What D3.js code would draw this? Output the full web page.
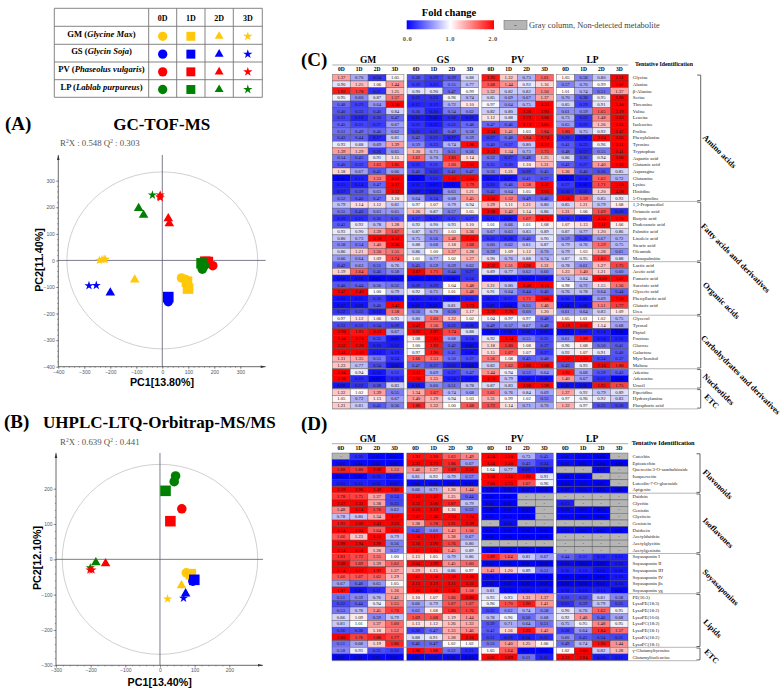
<!DOCTYPE html>
<html>
<head>
<meta charset="utf-8">
<script src="https://cdn.jsdelivr.net/npm/d3@7"></script>
<style>
html, body { margin: 0; padding: 0; background: #fff; }
svg { display: block; }
.serif { font-family: "Liberation Serif", serif; }
.sans { font-family: "Liberation Sans", sans-serif; }
</style>
</head>
<body>
<div id="chart"></div>
<script>
const species = ["GM", "GS", "PV", "LP"];
const days = ["0D", "1D", "2D", "3D"];
const speciesLatin = ["Glycine Max", "Glycin Soja", "Phaseolus vulgaris", "Lablab purpureus"];

// PCA scores: [species, day, pc1, pc2]
const pcaA = [
  ["GM",3,-242,0],["GM",3,-232,3],["GM",3,-224,4],["GM",3,-219,4],
  ["GM",2,-106,-73],["GM",1,95,-80],["GM",1,99,-106],["GM",0,74,-66],["GM",0,90,-72],
  ["GS",3,-282,-95],["GS",3,-254,-94],["GS",2,-200,-122],["GS",1,23,-138],["GS",0,23,-146],["GS",0,23,-155],
  ["PV",1,165,-5],["PV",1,175,-6],["PV",0,194,-20],
  ["LP",1,151,-11],["LP",0,154,-18],["LP",0,154,-33],["LP",0,162,-20],
  ["PV",2,23,158],["PV",2,27,139],["LP",2,-91,196],["LP",2,-72,171],
  ["LP",3,-38,246],["PV",3,-8,246],["PV",3,-8,236],["PV",3,-10,240]
];
const pcaB = [
  ["LP",0,45,236],["LP",0,41,220],["LP",1,16,194],["PV",0,63,143],["PV",1,30,108],
  ["LP",3,-201,-24],["LP",2,-185,-9],["PV",2,-157,-12],["PV",3,-196,-30],["PV",3,-202,-30],
  ["GM",1,89,-42],["GM",0,76,-38],["GS",1,99,-58],["GS",0,95,-62],
  ["GM",2,62,-74],["GM",3,22,-112],["GS",2,74,-97],["GS",3,68,-110]
];

const cRows = ["Glycine","Alanine","β-Alanine","Serine","Threonine","Valine","Leucine","Isoleucine","Proline","Phenylalanine","Tyrosine","Tryptophan","Aspartic acid","Glutamic acid","Asparagine","Glutamine","Lysine","Histidine","5-Oxoproline",
  "1,3-Propanediol","Octanoic acid","Butyric acid","Dodecanoic acid","Palmitic acid","Linoleic acid","Stearic acid","Oleamide","Monopalmitin",
  "Lactic acid","Acetic acid","Fumaric acid","Succinic acid","Glyceric acid","Phenyllactic acid","Glutaric acid","Urea",
  "Glycerol","Tyrosol","Phytol","Fructose","Glucose","Galactose","Myo-Inositol","Maltose",
  "Adenine","Adenosine","Uracil","Piperidine","Hydroxylamine","Phosphoric acid"];
const cGroups = [["Amino acids",19],["Fatty acids and derivatives",9],["Organic acids",8],["Carbohydrates and derivatives",8],["Nucleotides",3],["ETC",3]];

const cGM = [[1.37,.70,.24,1.05],[.90,1.25,1.06,1.44],[1.92,1.78,.21,1.25],[.95,.60,.87,1.57],[.48,.29,.64,2.56],[.40,.33,.40,.84],[.31,.16,.30,.47],[.45,.31,.27,.67],[.51,.49,.46,.62],[.43,.44,.17,.81],[.93,.88,.69,1.39],[1.39,1.29,.26,.65],[.54,.45,.91,1.15],[.40,.32,1.63,1.85],[1.18,.67,.41,.66],[.01,.15,1.53,2.62],[.15,.14,.47,2.27],[.17,.39,.63,2.12],[.52,.40,.47,1.10],
  [.79,1.14,1.12,.81],[.55,.40,.63,.65],[.20,.21,.36,.35],[.41,.92,.78,1.28],[.93,.90,1.39,1.67],[.80,.73,2.59,3.12],[.58,.54,1.40,2.26],[.86,1.21,1.50,1.55],[.66,.64,1.09,1.74],
  [.42,.63,.51,.76],[1.19,1.64,.46,.58],[.08,.08,.02,.04],[.40,.44,.56,.52],[2.47,2.40,1.00,.79],[.10,.11,.30,.10],[.07,.09,.40,3.42],[.22,.33,.13,1.58],
  [.97,1.12,1.06,.93],[.33,.32,.34,.29],[2.98,1.93,2.12,.67],[5.44,3.74,.35,.09],[2.52,2.28,.16,.12],[2.41,2.19,.12,.19],[1.31,1.35,.55,.24],[1.23,.77,.34,.06],
  [2.84,.94,.10,.33],[2.36,.20,.01,.18],[.09,.22,.38,.83],[1.22,1.02,1.39,.55],[1.05,.72,1.13,.67],[1.21,.81,.41,.56]];
const cGS = [[.38,.29,.39,.88],[.29,.23,.55,.77],[.90,.90,.47,.99],[.22,.23,.96,.74],[.17,.19,.72,1.10],[.36,.16,.54,.62],[.11,.06,.18,.12],[.23,.12,.32,.48],[.21,.21,.49,.58],[.42,.25,.17,.59],[.59,.33,.74,1.96],[1.30,.73,.51,.56],[1.61,.70,1.83,1.14],[.23,.31,1.60,2.01],[.40,.22,.41,.47],[.01,.21,3.05,5.04],[.11,.07,.03,1.79],[.09,.07,.63,1.21],[.64,.34,.68,1.45],
  [.97,1.07,.79,.94],[1.26,.87,.57,1.05],[.27,.17,.25,.27],[.92,.90,.93,1.10],[.87,.71,1.03,1.36],[.75,.56,1.48,2.24],[.88,.68,1.18,1.68],[.86,1.00,1.37,1.28],[1.01,.77,1.02,1.27],
  [.45,.59,.59,.62],[2.67,1.71,.44,.27],[.01,.01,.06,.24],[.29,.29,1.04,1.48],[.92,.71,1.01,1.48],[.11,.11,.07,.15],[.06,.05,.81,3.73],[.56,.78,.50,1.17],
  [.80,1.60,1.22,1.02],[2.47,1.56,.32,.16],[3.92,2.97,1.74,.88],[1.08,2.61,.68,.24],[1.00,1.93,.42,.05],[.97,1.90,.41,.08],[1.66,1.53,.50,.37],[.47,.37,.13,.04],
  [2.31,.69,.27,.47],[2.76,1.35,.14,.07],[.10,.60,.51,.78],[1.34,1.67,.74,.68],[1.40,1.29,.94,1.03],[1.88,1.32,1.00,1.68]];
const cPV = [[1.93,1.22,.73,1.61],[1.68,1.44,.92,1.16],[1.32,.82,.82,1.50],[.85,.69,.67,1.37],[.97,.64,.75,2.33],[.82,.80,2.30,2.90],[1.12,.88,2.73,3.86],[.47,.46,2.12,3.85],[2.34,1.41,1.03,1.84],[.27,.48,1.84,2.74],[.40,.37,.80,2.27],[2.12,1.34,.73,1.75],[.52,.27,.48,1.25],[.35,.30,1.10,1.31],[.56,1.21,.29,.45],[.07,.07,.41,.37],[.20,.46,1.58,2.47],[.42,.64,1.05,2.05],[2.32,1.52,.49,.46],
  [1.29,1.11,1.21,.80],[2.08,1.42,1.14,.86],[.13,.08,1.67,4.72],[1.01,.66,1.01,1.08],[.67,.63,.83,.89],[.22,.18,.46,.90],[.60,.62,.81,.87],[.59,1.09,1.12,.70],[.90,.76,.88,.74],
  [2.22,1.51,1.96,1.31],[.89,.77,.62,.60],[.03,.03,.05,.08],[1.21,.80,2.40,2.15],[.91,.64,.44,.46],[.11,.17,1.71,3.68],[.09,.04,.55,1.46],[3.29,2.76,.60,1.20],
  [1.04,.97,.97,.48],[.49,.57,.67,.48],[.03,.06,.08,.05],[.92,2.54,.55,.35],[1.18,1.80,1.08,.37],[1.15,1.67,1.07,.27],[1.56,1.08,.45,.48],[.82,1.62,2.86,2.68],
  [1.44,.94,.52,.64],[3.72,.79,.08,.08],[.87,.83,2.08,1.98],[1.61,.76,.84,.69],[1.31,.99,1.02,.55],[1.72,1.14,.71,.70]];
const cLP = [[1.05,.58,.80,2.51],[.57,.70,.99,2.07],[1.01,.74,.51,1.37],[.70,.38,.95,3.86],[.85,.29,.91,5.16],[.61,.59,1.65,3.19],[.73,.23,1.48,3.63],[.65,.22,1.26,3.31],[1.80,.75,.92,2.47],[.20,.08,3.04,3.65],[.41,.23,.96,3.31],[.48,.17,.55,2.41],[.86,.30,.94,3.06],[.42,.27,1.40,2.23],[1.36,.40,.36,.85],[.02,.14,1.62,.72],[.27,.06,1.71,3.69],[.16,.16,1.20,4.58],[2.21,1.59,.85,.93],
  [.85,1.21,.79,1.08],[1.31,1.06,1.69,.20],[.18,.13,4.24,2.76],[1.07,1.13,2.11,1.06],[.87,.77,1.20,.86],[.59,.26,.67,.72],[.79,.76,1.59,.75],[.79,1.03,1.28,.61],[.87,.95,1.83,.88],
  [.78,.61,1.27,1.75],[1.23,1.40,1.21,.60],[.74,.84,18.69,3.07],[.98,.72,1.15,1.56],[.76,.78,.64,.44],[.16,.08,.69,7.59],[.04,.08,1.51,1.77],[.61,.64,.83,1.09],
  [1.05,1.01,1.02,.75],[2.19,2.02,1.14,.68],[.03,.09,.14,.00],[.61,1.89,.14,.16],[.96,1.08,.50,.41],[.92,1.07,.91,.40],[2.27,1.99,.34,.37],[.43,.93,2.16,1.88],
  [1.92,.68,.39,.43],[1.40,.67,.21,.00],[.06,.06,1.95,1.75],[1.37,.92,.79,.89],[.97,.96,.92,.83],[1.32,.97,.35,.30]];

const dRows = ["Catechin","Epicatechin","Quercetin 3-O-sambubioside","Isoquercetin","Luteolin-7-O-glucoside","Apigenin",
  "Daidzin","Glycitin","Genistin","Glycitein","Genistein","Daidzein","Acetyldaidzin","Acetylglycitin","Acetylgenistin",
  "Soyasaponin  I","Soyasaponin II","Soyasaponin III","Soyasaponin IV","Soyasaponin βs","Soyasaponin γg",
  "PE(16:3)","LysoPE(18:3)","LysoPE(18:2)","LysoPE(16:0)","LysoPC(18:2)","LysoPE(18:1)","LysoPA(18:2)","LysoPC(18:1)",
  "γ-Glutamyltyrosine","Glutamylisoleucine"];
const dGroups = [["Flavonoids",6],["Isoflavones",9],["Soyasaponins",6],["Lipids",8],["ETC",2]];

const dGM = [[null,.20,.03,.01],[.06,.04,.03,.02],[1.88,1.80,2.09,1.53],[.01,.02,.16,.07],[.13,.15,.12,.07],[2.59,2.96,3.49,2.82],
  [1.78,1.75,1.37,.34],[2.37,2.32,1.38,.33],[1.48,3.14,1.76,.62],[.78,.80,1.34,2.27],[1.93,2.09,2.43,2.63],[2.54,2.94,1.64,2.81],[1.66,1.23,2.12,.79],[2.98,2.94,1.99,.56],[2.54,2.58,1.28,.57],
  [1.81,1.72,1.55,1.00],[2.08,1.69,1.39,1.62],[2.14,2.17,1.92,1.37],[1.66,1.67,1.62,1.29],[.67,.48,.65,1.05],[1.97,.08,.21,1.36],
  [.51,.59,.76,1.41],[.32,.44,.94,1.55],[.53,.78,1.45,1.76],[.86,1.09,.59,.79],[.81,1.01,1.37,1.60],[.36,.38,1.18,1.52],[2.80,1.76,1.88,1.77],[.51,.68,1.19,1.86],
  [.58,.93,.35,.30],[.02,.02,.03,.01]];
const dGS = [[1.92,1.90,1.63,1.49],[3.33,3.75,1.86,.67],[1.46,1.37,1.89,2.51],[.81,.92,.79,.57],[.04,.04,.03,.03],[.66,.71,1.26,1.44],
  [2.19,2.42,1.25,.44],[3.32,3.06,1.87,.79],[2.53,2.19,1.16,.53],[2.47,2.46,2.94,3.24],[1.38,1.78,1.91,2.39],[.42,.60,1.43,1.56],[2.56,2.17,1.38,.67],[3.16,2.90,1.76,.80],[3.63,2.94,1.45,.89],
  [1.13,1.05,.79,.86],[2.04,1.99,1.45,1.60],[1.29,1.15,.86,.97],[2.62,2.56,2.39,2.20],[2.15,2.19,3.11,3.31],[2.16,2.68,2.31,1.58],
  [1.10,1.07,1.66,2.80],[.66,.79,1.67,1.67],[.62,1.08,1.80,1.76],[1.69,1.68,1.19,1.44],[1.13,1.12,1.26,1.33],[.28,.47,1.33,1.46],[.88,.91,1.28,2.16],[.46,.47,1.02,1.02],
  [1.96,1.88,.52,.21],[.01,.03,.03,.01]];
const dPV = [[4.54,3.20,.73,.45],[3.24,2.40,.43,.24],[1.04,.77,.13,.09],[3.76,3.36,1.99,.91],[7.00,5.75,1.67,.96],[.01,.01,.01,.00],
  [.01,.01,null,null],[.03,.01,null,null],[.00,.01,.00,null],[.03,.03,.00,null],[null,.05,null,null],[.01,.01,.00,.00],[.00,.00,.00,.00],[null,null,null,null],[.02,.00,.00,.00],
  [1.89,1.64,.81,.67],[.01,.01,.01,.00],[1.41,1.20,.89,.51],[.04,.01,.00,.00],[.02,.01,.00,.01],[.81,.03,.06,.08],
  [.93,.93,1.31,1.37],[.96,1.70,1.90,1.41],[.32,.62,.74,.58],[.78,.96,.50,.68],[.39,.71,.64,.51],[.42,1.16,1.93,1.42],[.31,.19,.14,.21],[.53,1.40,1.25,1.06],
  [1.05,1.64,.01,.01],[6.01,3.89,.51,.15]];
const dLP = [[.06,.02,.00,null],[.05,.01,.00,.00],[null,null,.03,null],[.00,.01,null,null],[.00,.01,.01,null],[.02,.01,.00,.00],
  [null,null,null,null],[.13,null,null,null],[.03,.01,.00,null],[.03,.00,.00,null],[null,null,null,null],[.03,.01,.02,.01],[null,null,null,null],[null,null,null,null],[null,null,null,null],
  [.44,.31,.16,.15],[.03,.00,.00,.10],[.16,.16,.06,.10],[.00,.00,.00,.10],[.00,.00,.02,.10],[.10,.10,.13,.02],
  [.31,.32,.81,.58],[.21,.39,.79,.35],[.90,.76,1.62,.95],[.92,1.46,.46,.68],[.75,.95,1.48,.95],[.28,.64,1.84,1.57],[.60,.41,.34,.31],[.49,.74,1.96,1.44],
  [1.02,2.00,.82,1.28],[2.13,2.94,.10,.11]];

const speciesColor = d3.scaleOrdinal().domain(species).range(["#ffc80a", "#0000ff", "#ff0000", "#008000"]);
const dayShape = [d3.symbolCircle, d3.symbolSquare, d3.symbolTriangle, d3.symbolStar];
const shapeSize = [72, 112, 40, 26];
const foldColor = d3.scaleLinear().domain([0, 0.5, 1, 2]).range(["#0000ff", "#6c6cf5", "#ffffff", "#ff0000"]).clamp(true);
const fmt = d3.format(".2f");

const svg = d3.select("#chart").append("svg").attr("width", 781).attr("height", 693);

function label(x, y, text, size, cls, opts = {}) {
  return svg.append("text").attr("class", cls).attr("x", x).attr("y", y)
    .attr("font-size", size)
    .attr("font-weight", opts.weight || "normal")
    .attr("fill", opts.fill || "#000")
    .attr("text-anchor", opts.anchor || "start")
    .text(text);
}

// legend table
function drawLegend() {
  const colX = [54.3, 148.7, 176.7, 205, 233.3, 262.3];
  const rowY = [8.3, 26.3, 44.3, 62, 79.7, 97.3];
  const g = svg.append("g").attr("stroke", "#777").attr("stroke-width", 0.9);
  colX.forEach(x => g.append("line").attr("x1", x).attr("x2", x).attr("y1", rowY[0]).attr("y2", rowY[5]));
  rowY.forEach(y => g.append("line").attr("x1", colX[0]).attr("x2", colX[5]).attr("y1", y).attr("y2", y));
  days.forEach((d, j) => {
    label((colX[j + 1] + colX[j + 2]) / 2, 20.5, d, 8, "serif", { weight: "bold", anchor: "middle" });
  });
  species.forEach((s, i) => {
    const t = label((colX[0] + colX[1]) / 2, (rowY[i + 1] + rowY[i + 2]) / 2 + 1.2, "", 8.6, "serif", { weight: "bold", anchor: "middle" });
    t.append("tspan").text(s + " (");
    t.append("tspan").attr("font-style", "italic").text(speciesLatin[i]);
    t.append("tspan").text(")");
    days.forEach((d, j) => {
      svg.append("path")
        .attr("d", d3.symbol().type(dayShape[j]).size([68, 80, 34, 27][j])())
        .attr("transform", `translate(${(colX[j + 1] + colX[j + 2]) / 2},${(rowY[i + 1] + rowY[i + 2]) / 2 + 1})`)
        .attr("fill", speciesColor(s));
    });
  });
}

// one PCA score plot
function drawScores(cfg) {
  const x = d3.scaleLinear().domain(cfg.xDomain).range(cfg.xRange);
  const y = d3.scaleLinear().domain(cfg.yDomain).range(cfg.yRange);
  const left = cfg.xRange[0], bottom = cfg.yRange[0];
  const g = svg.append("g");

  g.append("ellipse")
    .attr("cx", x(0)).attr("cy", y(0))
    .attr("rx", x(cfg.ellipse[0]) - x(0)).attr("ry", y(0) - y(cfg.ellipse[1]))
    .attr("fill", "none").attr("stroke", "#c4c4c4").attr("stroke-width", 0.8);

  g.append("line").attr("x1", left).attr("x2", cfg.xEnd).attr("y1", y(0)).attr("y2", y(0)).attr("stroke", "#5b5b70").attr("stroke-width", 0.8);
  g.append("line").attr("x1", x(0)).attr("x2", x(0)).attr("y1", cfg.yEnd).attr("y2", bottom).attr("stroke", "#5b5b70").attr("stroke-width", 0.8);

  const xAxis = d3.axisBottom(x).tickValues(cfg.xTicks).tickSize(2.5).tickPadding(1).tickFormat(d3.format("d"));
  const yAxis = d3.axisLeft(y).tickValues(cfg.yTicks).tickSize(2.5).tickPadding(1).tickFormat(d3.format("d"));
  const xMinor = d3.axisBottom(x).tickValues(d3.range(cfg.xDomain[0], cfg.xDomain[1] + 1, 20)).tickSize(1.2).tickFormat("");
  const yMinor = d3.axisLeft(y).tickValues(d3.range(cfg.yDomain[0], cfg.yDomain[1] + 1, 20)).tickSize(1.2).tickFormat("");

  [[xMinor, `translate(0,${bottom})`], [yMinor, `translate(${left},0)`], [xAxis, `translate(0,${bottom})`], [yAxis, `translate(${left},0)`]].forEach(([ax, tr]) => {
    const a = g.append("g").attr("transform", tr).call(ax);
    a.selectAll(".domain").remove();
    a.selectAll("line").attr("stroke", "#555").attr("stroke-width", 0.5);
    a.selectAll("text").attr("font-size", 5).attr("fill", "#555").attr("font-family", "Liberation Sans");
  });
  g.append("line").attr("x1", left).attr("x2", cfg.xEnd).attr("y1", bottom).attr("y2", bottom).attr("stroke", "#444").attr("stroke-width", 0.8);
  g.append("line").attr("x1", left).attr("x2", left).attr("y1", cfg.yEnd).attr("y2", bottom).attr("stroke", "#444").attr("stroke-width", 0.8);
  g.append("path").attr("d", `M${cfg.xEnd - 5},${bottom - 1.3}L${cfg.xEnd},${bottom}L${cfg.xEnd - 5},${bottom + 1.3}Z`).attr("fill", "#333");
  g.append("path").attr("d", `M${left - 1.3},${cfg.yEnd + 5}L${left},${cfg.yEnd}L${left + 1.3},${cfg.yEnd + 5}Z`).attr("fill", "#333");

  g.selectAll(".pt").data(cfg.points).join("path")
    .attr("d", d => d3.symbol().type(dayShape[d[1]]).size(shapeSize[d[1]])())
    .attr("transform", d => `translate(${x(d[2])},${y(d[3])})`)
    .attr("fill", d => speciesColor(d[0]));
}

// heat map with its headers, row names and brackets
function drawHeat(cfg) {
  const groupX = d3.scaleBand().domain(species).range([cfg.left, cfg.left + 296]).paddingInner(0.042);
  const dayX = d3.scaleBand().domain(days).range([0, groupX.bandwidth()]);
  const rowY = d3.scaleBand().domain(cfg.rows).range([cfg.top, cfg.bottom]);
  const g = svg.append("g");

  species.forEach((s, si) => {
    const gx = groupX(s);
    label(gx + groupX.bandwidth() / 2, cfg.top - 11.5, s, 9.5, "serif", { weight: "bold", anchor: "middle" });
    days.forEach(d => {
      label(gx + dayX(d) + dayX.bandwidth() / 2, cfg.top - 3, d, 5.5, "serif", { weight: "bold", anchor: "middle" });
    });
    const cells = cfg.values[si].flatMap((row, r) => row.map((v, c) => ({ v, r, c })));
    const cg = g.append("g").attr("transform", `translate(${gx},0)`);
    cg.selectAll("rect").data(cells).join("rect")
      .attr("x", d => dayX(days[d.c]))
      .attr("y", d => rowY(cfg.rows[d.r]))
      .attr("width", dayX.bandwidth())
      .attr("height", rowY.bandwidth())
      .attr("fill", d => d.v === null ? "#b5b5b5" : foldColor(d.v))
      .attr("stroke", "#444")
      .attr("stroke-opacity", 0.8)
      .attr("stroke-width", 0.45);
    cg.selectAll("text").data(cells).join("text")
      .attr("class", "serif")
      .attr("x", d => dayX(days[d.c]) + dayX.bandwidth() / 2)
      .attr("y", d => rowY(cfg.rows[d.r]) + rowY.bandwidth() / 2 + 1.5)
      .attr("text-anchor", "middle")
      .attr("font-size", 4.7)
      .attr("fill", "#111")
      .text(d => d.v === null ? "-" : fmt(d.v));
  });

  const rightEdge = cfg.left + 296;
  g.append("line").attr("x1", cfg.left).attr("x2", rightEdge).attr("y1", cfg.top - 9.3).attr("y2", cfg.top - 9.3).attr("stroke", "#888").attr("stroke-width", 0.7);
  label(cfg.headX, cfg.top - 8.2, "Tentative Identification", cfg.headSize, "serif", { weight: "bold" });

  cfg.rows.forEach(r => label(rightEdge + 4.5, rowY(r) + rowY.bandwidth() / 2 + 1.6, r, 4.8, "serif", { fill: "#222" }));

  // group separators and brackets
  let start = 0;
  cfg.groups.forEach(([name, n], i) => {
    const y0 = cfg.top + start * rowY.step();
    const y1 = cfg.top + (start + n) * rowY.step();
    g.append("line").attr("x1", cfg.left).attr("x2", cfg.bracketX - 3).attr("y1", y1).attr("y2", y1)
      .attr("stroke", "#999").attr("stroke-width", 0.7);
    g.append("path")
      .attr("d", `M${cfg.bracketX - 3.5},${y0 + 0.8}H${cfg.bracketX}V${y1 - 0.8}H${cfg.bracketX - 3.5}`)
      .attr("fill", "none").attr("stroke", "#555").attr("stroke-width", 0.9);
    const p = cfg.groupPos[i];
    label(0, 0, name, 8.2, "serif", { weight: "bold", anchor: "middle" })
      .attr("x", null).attr("y", null)
      .attr("transform", `translate(${p[0]},${p[1]}) rotate(45)`)
      .attr("dominant-baseline", "middle");
    start += n;
  });
}

drawLegend();

label(5, 130, "(A)", 19, "serif", { weight: "bold" });
label(161.7, 130, "GC-TOF-MS", 17, "serif", { weight: "bold", anchor: "middle" });
const r2A = label(60, 145.5, "", 8.8, "serif", { fill: "#555" });
r2A.html('R<tspan font-size="5.5" dy="-2.5">2</tspan><tspan dy="2.5">X : 0.548 Q</tspan><tspan font-size="5.5" dy="-2.5">2</tspan><tspan dy="2.5"> : 0.303</tspan>');
drawScores({
  xDomain: [-400, 300], xRange: [58.3, 240.3], xEnd: 265.7, xTicks: d3.range(-400, 301, 100),
  yDomain: [-400, 300], yRange: [366.7, 180.7], yEnd: 155, yTicks: d3.range(-400, 301, 100),
  ellipse: [367, 333], points: pcaA
});
label(162, 386, "PC1[13.80%]", 10.7, "sans", { weight: "bold", anchor: "middle" });
label(0, 0, "PC2[11.40%]", 10.7, "sans", { weight: "bold", anchor: "middle" }).attr("x", null).attr("y", null)
  .attr("transform", "translate(43,260) rotate(-90)");

label(4, 428, "(B)", 19, "serif", { weight: "bold" });
label(43, 428, "UHPLC-LTQ-Orbitrap-MS/MS", 17, "serif", { weight: "bold" });
const r2B = label(60, 444.5, "", 8.8, "serif", { fill: "#555" });
r2B.html('R<tspan font-size="5.5" dy="-2.5">2</tspan><tspan dy="2.5">X : 0.639 Q</tspan><tspan font-size="5.5" dy="-2.5">2</tspan><tspan dy="2.5"> : 0.441</tspan>');
drawScores({
  xDomain: [-300, 200], xRange: [56, 229.3], xEnd: 263, xTicks: d3.range(-300, 201, 100),
  yDomain: [-300, 200], yRange: [665.3, 488.7], yEnd: 453, yTicks: d3.range(-300, 201, 100),
  ellipse: [282, 269], points: pcaB
});
label(159.7, 685.5, "PC1[13.40%]", 10.7, "sans", { weight: "bold", anchor: "middle" });
label(0, 0, "PC2[12.10%]", 10.7, "sans", { weight: "bold", anchor: "middle" }).attr("x", null).attr("y", null)
  .attr("transform", "translate(40.5,558) rotate(-90)");

// fold change colour bar
const grad = svg.append("defs").append("linearGradient").attr("id", "fold");
[0, 0.5, 1].forEach((o, i) => grad.append("stop").attr("offset", o).attr("stop-color", ["#0000ff", "#ffffff", "#ff0000"][i]));
svg.append("rect").attr("x", 406.7).attr("y", 20.3).attr("width", 87.3).attr("height", 9).attr("fill", "url(#fold)");
const barScale = d3.scaleLinear().domain([0, 2]).range([407.5, 493]);
label(449, 16, "Fold change", 10.5, "serif", { weight: "bold", anchor: "middle" });
[0, 1, 2].forEach(v => label(barScale(v), 41, v.toFixed(1), 6.5, "serif", { weight: "bold", anchor: "middle", fill: "#555" }).attr("letter-spacing", 0.5));
svg.append("rect").attr("x", 504).attr("y", 20.3).attr("width", 23).attr("height", 9).attr("fill", "#b5b5b5").attr("stroke", "#777").attr("stroke-width", 0.6);
label(515.5, 27, "-", 7, "serif", { anchor: "middle" });
label(529, 28.3, "Gray column, Non-detected metabolite", 8.4, "serif", { fill: "#444" });

label(301, 66, "(C)", 19, "serif", { weight: "bold" });
drawHeat({
  left: 332.3, top: 74.3, bottom: 408.9, rows: cRows, values: [cGM, cGS, cPV, cLP], groups: cGroups,
  headX: 635, headSize: 5.8, bracketX: 700.7,
  groupPos: [[719, 152], [735, 258.7], [720.7, 301], [740, 375.5], [718, 390], [711, 402]]
});

label(301, 430, "(D)", 19, "serif", { weight: "bold" });
drawHeat({
  left: 332, top: 453, bottom: 660.7, rows: dRows, values: [dGM, dGS, dPV, dLP], groups: dGroups,
  headX: 631.7, headSize: 6.3, bracketX: 700,
  groupPos: [[717, 485], [717.5, 533.5], [720, 588], [712, 629], [711, 657]]
});
</script>
</body>
</html>
